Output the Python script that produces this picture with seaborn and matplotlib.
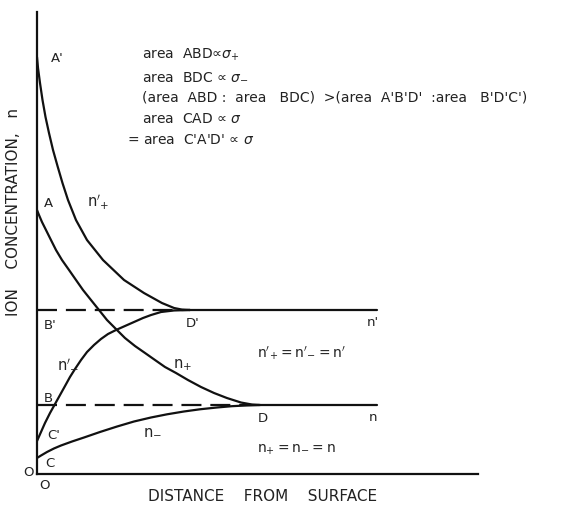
import matplotlib
matplotlib.use("Agg")
import matplotlib.pyplot as plt
import seaborn as sns
import pandas as pd

# ---------------- data (distance units, concentration units) ----------------
# n'+ : A' -> D'
np_prime_x = [0, 0.023, 0.068, 0.125, 0.193, 0.272, 0.363, 0.465, 0.578, 0.703, 0.884, 1.134,
              1.497, 1.973, 2.426, 2.834, 3.107, 3.288, 3.469]
np_prime_y = [6.043, 5.884, 5.667, 5.420, 5.174, 4.942, 4.696, 4.464, 4.217, 3.971, 3.681, 3.391,
              3.101, 2.812, 2.623, 2.478, 2.406, 2.383, 2.377]

# n+ : A -> D
np_x = [0, 0.045, 0.113, 0.204, 0.317, 0.431, 0.567, 0.726, 0.884, 1.043, 1.224, 1.406, 1.587,
        1.791, 1.995, 2.222, 2.449, 2.676, 2.902, 3.152, 3.424, 3.719, 4.014, 4.308, 4.626,
        4.875, 5.057]
np_y = [3.826, 3.754, 3.652, 3.536, 3.391, 3.246, 3.101, 2.957, 2.812, 2.667, 2.522, 2.377, 2.232,
        2.101, 1.971, 1.855, 1.754, 1.652, 1.551, 1.464, 1.362, 1.261, 1.174, 1.101, 1.036,
        1.007, 1.000]

# n'- : C' -> D'
nm_prime_x = [0, 0.091, 0.181, 0.295, 0.408, 0.522, 0.635, 0.748, 0.862, 0.998, 1.134, 1.293,
              1.451, 1.610, 1.791, 1.995, 2.200, 2.404, 2.585, 2.812, 3.107, 3.469]
nm_prime_y = [0.478, 0.609, 0.739, 0.884, 1.014, 1.145, 1.275, 1.406, 1.522, 1.652, 1.768, 1.870,
              1.957, 2.029, 2.087, 2.145, 2.203, 2.261, 2.304, 2.348, 2.370, 2.377]

# n- : C -> D
nm_x = [0, 0.091, 0.227, 0.385, 0.544, 0.794, 1.066, 1.429, 1.814, 2.200, 2.585, 2.948, 3.333,
        3.696, 4.082, 4.422, 4.762, 5.057]
nm_y = [0.232, 0.268, 0.319, 0.370, 0.413, 0.471, 0.529, 0.609, 0.688, 0.761, 0.819, 0.865, 0.906,
        0.938, 0.964, 0.983, 0.994, 1.000]

bulk_levels = [2.377, 1.000]        # n', n
bulk_start = [3.469, 5.057]         # D', D
bulk_end = 7.71

# ---------------- figure ----------------
sns.set_style("white")
plt.rcParams['font.family'] = ['DejaVu Sans']
plt.rcParams['mathtext.fontset'] = 'dejavusans'

W, H = 579, 508
fig = plt.figure(figsize=(W / 100, H / 100), dpi=100)
ax = fig.add_axes([37 / W, 34 / H, 441 / W, 462 / H])
ax.set_xlim(0, 10)
ax.set_ylim(0, 6.696)

lc = "#111111"
lw = 1.6

curves = [(np_prime_x, np_prime_y), (np_x, np_y), (nm_prime_x, nm_prime_y), (nm_x, nm_y)]
for cx, cy in curves:
    df = pd.DataFrame({"x": cx, "y": cy})
    sns.lineplot(data=df, x="x", y="y", ax=ax, color=lc, lw=lw, sort=False, estimator=None)

for lev, xs in zip(bulk_levels, bulk_start):
    dd = pd.DataFrame({"x": [0, xs], "y": [lev, lev]})
    sns.lineplot(data=dd, x="x", y="y", ax=ax, color=lc, lw=lw, sort=False, estimator=None,
                 linestyle=(0, (9, 4)))
    ds = pd.DataFrame({"x": [xs, bulk_end], "y": [lev, lev]})
    sns.lineplot(data=ds, x="x", y="y", ax=ax, color=lc, lw=lw, sort=False, estimator=None)

for s in ["top", "right"]:
    ax.spines[s].set_visible(False)
for s in ["left", "bottom"]:
    ax.spines[s].set_color(lc)
    ax.spines[s].set_linewidth(1.6)
ax.set_xticks([])
ax.set_yticks([])
ax.set_xlabel("")
ax.set_ylabel("")


def P(xp, yp):
    return (xp - 37) / 44.1, (474 - yp) / 69.0


def T(xp, yp, s, ha="center", size=9.5, **kw):
    x, y = P(xp, yp)
    ax.text(x, y, s, ha=ha, va="center", fontsize=size, color="#222222", clip_on=False, **kw)


# point labels
T(28, 472, "O")
T(44, 486, "O")
T(57, 58, "A'")
T(48, 203, "A")
T(98, 202, r"$\mathrm{n}'_{+}$", size=10.5)
T(50, 325, "B'")
T(193, 323, "D'")
T(48, 398, "B")
T(54, 435, "C'")
T(50, 463, "C")
T(68, 363, r"$\mathrm{n}'_{-}$", size=10.5)
T(182, 365, r"$\mathrm{n}_{+}$", size=10.5)
T(152, 430, r"$\mathrm{n}_{-}$", size=10.5)
T(263, 418, "D")
T(373, 417, "n")
T(373, 322, "n'")
T(301, 353, r"$\mathrm{n}'_{+} = \mathrm{n}'_{-} = \mathrm{n}'$", size=10)
T(296, 450, r"$\mathrm{n}_{+} = \mathrm{n}_{-} = \mathrm{n}$", size=10)

# annotation block
T(142, 55, r"area  ABD∝$\sigma_{+}$", ha="left", size=10)
T(142, 76, r"area  BDC ∝ $\sigma_{-}$", ha="left", size=10)
T(142, 97, "(area  ABD :  area   BDC)  >(area  A'B'D'  :area   B'D'C')", ha="left", size=10)
T(142, 119, r"area  CAD ∝ $\sigma$", ha="left", size=10)
T(127, 140, r"= area  C'A'D' ∝ $\sigma$", ha="left", size=10)

# axis titles
T(14, 212, "ION    CONCENTRATION,   n", rotation=90, size=11)
T(263, 497, "DISTANCE    FROM    SURFACE", size=11)

fig.savefig("out.png", dpi=100, facecolor="white")
